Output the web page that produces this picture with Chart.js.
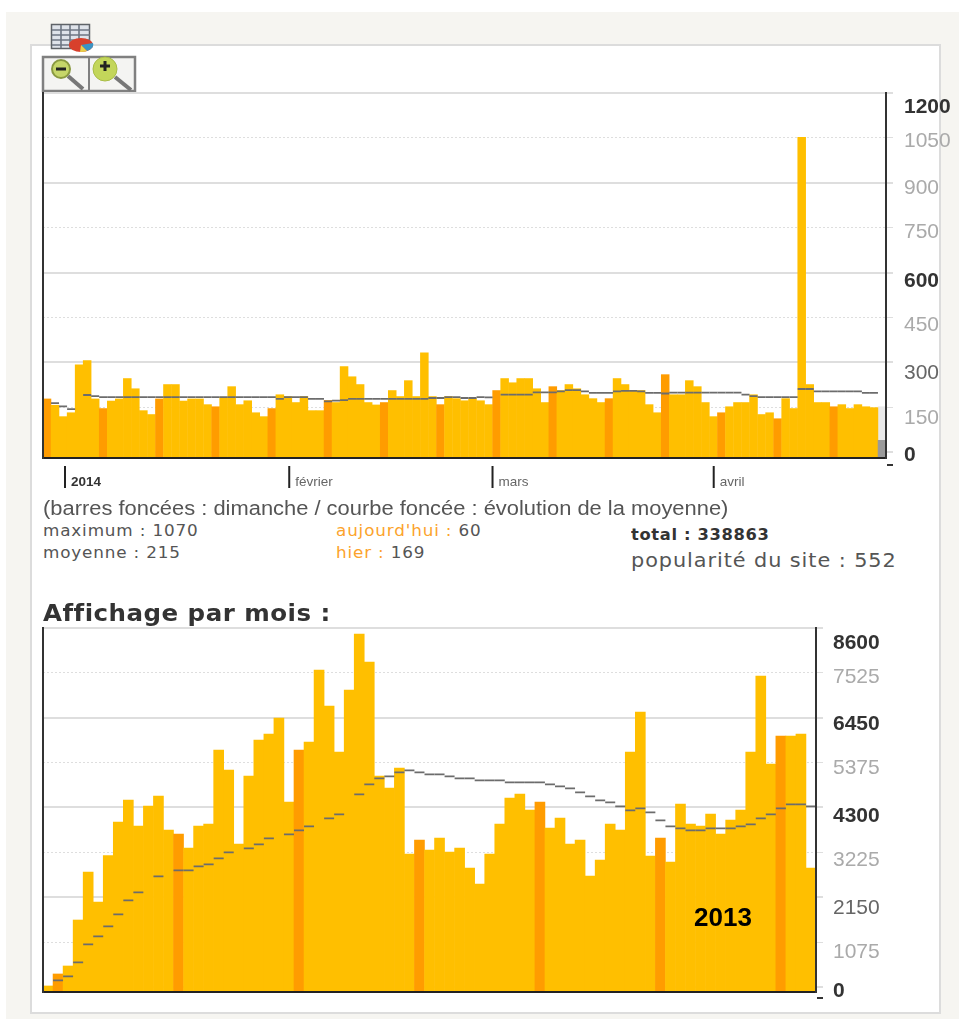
<!DOCTYPE html>
<html lang="fr"><head><meta charset="utf-8">
<script src="https://cdn.jsdelivr.net/npm/chart.js@4"></script>
<style>
html,body{margin:0;padding:0;background:#fff;width:959px;height:1019px;overflow:hidden}
body{filter:blur(.45px)}
.abs{position:absolute;white-space:nowrap;line-height:1;transform-origin:left center}
#outer{position:absolute;left:6px;top:12px;width:953px;height:1007px;background:#f6f5f1}
#inner{position:absolute;left:30px;top:44px;width:907px;height:966px;background:#fff;border:2px solid #dcdcdc}
canvas{position:absolute}
.dj{font-family:"DejaVu Sans",sans-serif;color:#555}
.or{color:#fca32c}
.dash{position:absolute;width:6px;height:2px;background:#333}
</style></head><body>
<div id="outer"></div><div id="inner"></div>
<svg class="abs" style="left:40px;top:20px" width="100" height="74" viewBox="0 0 100 74">
 <rect x="11.5" y="4.5" width="38" height="24" fill="#dfe3ea" stroke="#5f6368" stroke-width="1.5"/>
 <path d="M12 10H50M12 15H50M12 20H50M12 25H40M21 5V28M30 5V28M39 5V20" stroke="#6f7784" stroke-width="1.6"/>
 <ellipse cx="41" cy="25" rx="12" ry="7" fill="#d8402c"/>
 <path d="M41 25L53 23A12 7 0 0 1 47 31Z" fill="#3a94c4"/>
 <path d="M41 25L47 31A12 7 0 0 1 40 32Z" fill="#e8d04a"/>
 <rect x="3" y="37" width="92" height="34" fill="#f4f4f2" stroke="#808080" stroke-width="2.5"/>
 <line x1="49" y1="37" x2="49" y2="71" stroke="#808080" stroke-width="2"/>
 <circle cx="21" cy="49" r="9" fill="#c6d66a" stroke="#8a9a40" stroke-width="2"/>
 <rect x="16" y="47.5" width="10" height="3" fill="#222"/>
 <line x1="28" y1="56" x2="43" y2="69" stroke="#777" stroke-width="4"/>
 <circle cx="65" cy="49" r="12" fill="#c3d65a" stroke="#a9bd48"/>
 <path d="M60 46H70M65 41V51" stroke="#222" stroke-width="3"/>
 <line x1="75" y1="57" x2="91" y2="70" stroke="#777" stroke-width="4"/>
</svg>

<canvas id="c1" style="left:30px;top:80px"></canvas>
<canvas id="c2" style="left:30px;top:615px"></canvas>
<div class="dash" style="left:887px;top:464px"></div>
<div class="dash" style="left:817px;top:997px"></div>

<div class="abs" style="left:43px;top:497px;font:20px 'Liberation Sans',Arial,sans-serif;color:#555;transform:scaleX(1.095)">(barres foncées : dimanche / courbe foncée : évolution de la moyenne)</div>
<div class="abs dj" style="left:43px;top:524px;font-size:15px;letter-spacing:.75px;transform:scaleX(1.12)">maximum : 1070</div>
<div class="abs dj" style="left:43px;top:546px;font-size:15px;letter-spacing:.75px;transform:scaleX(1.12)">moyenne : 215</div>
<div class="abs dj" style="left:336px;top:524px;font-size:15px;letter-spacing:.75px;transform:scaleX(1.12)"><span class="or">aujourd'hui :</span> 60</div>
<div class="abs dj" style="left:336px;top:546px;font-size:15px;letter-spacing:.75px;transform:scaleX(1.12)"><span class="or">hier :</span> 169</div>
<div class="abs dj" style="left:631px;top:528px;font-size:15px;font-weight:bold;letter-spacing:.6px;color:#333;transform:scaleX(1.087)">total : 338863</div>
<div class="abs dj" style="left:631px;top:550px;font-size:20px;letter-spacing:.9px;transform:scaleX(1.04)">popularité du site : 552</div>
<div class="abs dj" style="left:43px;top:602px;font-size:23px;font-weight:bold;color:#333;letter-spacing:.45px;transform:scaleX(1.065)">Affichage par mois :</div>
<div class="abs" style="left:694px;top:902px;font:bold 26px 'Liberation Sans',Arial,sans-serif;color:#000">2013</div>

<script>
// ---- daily chart ----
const dayLabels = ["1","2","3","4","5","6","7","8","9","10","11","12","13","14","15","16","17","18","19","20","21","22","23","24","25","26","27","28","29","30","31","32","33","34","35","36","37","38","39","40","41","42","43","44","45","46","47","48","49","50","51","52","53","54","55","56","57","58","59","60","61","62","63","64","65","66","67","68","69","70","71","72","73","74","75","76","77","78","79","80","81","82","83","84","85","86","87","88","89","90","91","92","93","94","95","96","97","98","99","100","101","102","103","104","105"];
const dayValues = [198,177,139,152,312,326,198,166,191,198,266,232,159,146,198,246,246,191,198,198,179,172,204,239,179,192,152,139,166,212,206,186,206,159,159,193,186,306,272,246,186,178,186,226,206,259,206,352,206,179,206,199,192,199,192,179,226,266,252,266,266,232,186,239,226,246,232,212,199,186,199,266,246,226,226,179,152,279,212,212,259,239,186,139,152,172,186,186,212,146,152,132,199,166,1070,246,186,186,172,179,166,179,172,169,null];
const dayAverage = [null,183,172,163,null,210,206,203,203,203,203,203,203,203,203,203,203,203,203,203,203,203,203,203,203,203,203,203,203,197,203,203,203,197,197,189,191,193,197,197,197,197,197,197,197,197,197,197,200,200,203,203,200,200,203,202,null,211,211,211,211,219,219,219,222,226,226,222,217,217,217,222,224,224,222,217,217,215,218,218,218,218,218,218,218,218,218,211,206,203,203,203,203,203,230,230,222,222,222,222,222,222,217,217,null];
const daySundays = [0,7,14,21,28,35,42,49,56,63,70,77,84,91,98];
const dayProjection = [null,null,null,null,null,null,null,null,null,null,null,null,null,null,null,null,null,null,null,null,null,null,null,null,null,null,null,null,null,null,null,null,null,null,null,null,null,null,null,null,null,null,null,null,null,null,null,null,null,null,null,null,null,null,null,null,null,null,null,null,null,null,null,null,null,null,null,null,null,null,null,null,null,null,null,null,null,null,null,null,null,null,null,null,null,null,null,null,null,null,null,null,null,null,null,null,null,null,null,null,null,null,null,null,172];
const dayToday = [null,null,null,null,null,null,null,null,null,null,null,null,null,null,null,null,null,null,null,null,null,null,null,null,null,null,null,null,null,null,null,null,null,null,null,null,null,null,null,null,null,null,null,null,null,null,null,null,null,null,null,null,null,null,null,null,null,null,null,null,null,null,null,null,null,null,null,null,null,null,null,null,null,null,null,null,null,null,null,null,null,null,null,null,null,null,null,null,null,null,null,null,null,null,null,null,null,null,null,null,null,null,null,null,60];
const dayTicks = [0,150,300,450,600,750,900,1050,1200];
const monthNames = ["2014","février","mars","avril"];
const monthPlaces = [2.24,30.17,55.49,83.04];

// ---- monthly chart ----
const weekLabels = ["1","2","3","4","5","6","7","8","9","10","11","12","13","14","15","16","17","18","19","20","21","22","23","24","25","26","27","28","29","30","31","32","33","34","35","36","37","38","39","40","41","42","43","44","45","46","47","48","49","50","51","52","53","54","55","56","57","58","59","60","61","62","63","64","65","66","67","68","69","70","71","72","73","74","75","76","77"];
const weekValues = [152,439,630,1730,2879,2161,3270,4075,4601,3979,4458,4697,3884,3788,3453,3979,4027,5797,5319,3549,5175,6037,6180,6563,4553,5797,5989,7711,6850,5750,7233,8572,7903,5175,4888,5367,3309,3644,3405,3692,3357,3453,2974,2592,3309,4027,4649,4745,4362,4553,3931,4171,3549,3644,2783,3166,4027,3884,5750,6707,3262,3692,3118,4506,4027,3979,4266,3788,4123,4362,5750,7568,5463,6132,6132,6180,2974];
const weekAverage = [null,279,375,710,1140,1332,1571,1858,2193,2384,null,2767,null,2911,2911,3006,3054,3198,3341,null,3437,3533,3676,null,3772,3868,3963,null,4155,4250,null,4729,4968,5112,5160,5255,5303,5255,5207,5207,5160,5112,5112,5064,5064,5064,5016,5016,5016,5016,4968,4920,4872,4777,4681,4585,4537,4442,4346,4394,4298,4107,3963,3916,3868,3868,3916,3916,3916,3963,4011,4155,4250,4394,4490,4490,4442];
const weekDark = [1,13,25,37,49,61,73];
const weekTicks = [0,1075,2150,3225,4300,5375,6450,7525,8600];

const BAR='#ffbf00', DARK='#ff9c00', GRID='#dedede', EDGE='#222';

function tickLabels(offsets, colors, bolds, xOffset){
  return {id:'tickLabels', afterDraw(chart){
    const s=chart.scales.y, c=chart.ctx; c.save();
    c.textBaseline='middle'; c.textAlign='left';
    s.ticks.forEach((t,i)=>{
      c.font=(bolds[i]?'bold ':'')+'21px "Liberation Sans",Arial,sans-serif';
      c.fillStyle=colors[i];
      c.fillText(String(t.value), s.right+xOffset, s.getPixelForValue(t.value)+offsets[i]);
    });
    c.restore();
  }};
}
const monthTicks={id:'monthTicks', afterDraw(chart){
  if(chart.canvas.id!=='c1') return;
  const s=chart.scales.x, c=chart.ctx, b=chart.chartArea.bottom; c.save();
  monthNames.forEach((m,i)=>{
    const x=s.getPixelForValue(monthPlaces[i]);
    c.fillStyle='#222'; c.fillRect(x-1,b+8,2,22);
    c.font=(i===0?'bold ':'')+'13.5px "Liberation Sans",Arial,sans-serif';
    c.fillStyle=i===0?'#333':'#666'; c.textBaseline='middle'; c.textAlign='left';
    c.fillText(m,x+6,b+24);
  });
  c.restore();
}};

function makeChart(id,h,cfg){
  const el=document.getElementById(id);
  el.width=929; el.height=h; el.style.width='929px'; el.style.height=h+'px';
  const colors=cfg.values.map((v,i)=>cfg.dark.includes(i)?DARK:BAR);
  const barBase={type:'bar',yAxisID:'yBars',barPercentage:1.06,categoryPercentage:1,grouped:false};
  const datasets=[];
  if(cfg.projection) datasets.push({...barBase,data:cfg.projection,backgroundColor:'#e9e9e9',order:4});
  datasets.push({...barBase,data:cfg.values,backgroundColor:colors,order:3});
  if(cfg.today) datasets.push({...barBase,data:cfg.today,backgroundColor:'#9a9a9a',order:2});
  datasets.push({type:'line',yAxisID:'yBars',data:cfg.average,showLine:false,pointStyle:'line',pointRadius:cfg.dash,pointHoverRadius:cfg.dash,pointBorderColor:'#6c6c6c',pointBorderWidth:1.8,order:1});
  return new Chart(el,{
    data:{labels:cfg.labels,datasets},
    plugins:[tickLabels(cfg.offsets,cfg.colors,cfg.bolds,cfg.labelGap),monthTicks],
    options:{
      responsive:false,animation:false,events:[],
      layout:{padding:cfg.padding},
      plugins:{legend:{display:false},tooltip:{enabled:false}},
      scales:{
        x:{type:'category',offset:true,ticks:{display:false},grid:{display:false,drawTicks:false},border:{display:true,color:EDGE,width:2,z:1}},
        y:{position:'right',min:cfg.gridMin,max:cfg.gridMax,
           afterBuildTicks(s){s.ticks=cfg.ticks.map(v=>({value:v}));},
           ticks:{display:false},
           grid:{color:GRID,tickLength:7,tickColor:GRID,lineWidth:c=>c.index%2===0?2:1,tickWidth:c=>c.index%2===0?2:1},
           border:{display:true,color:'#333',width:2,z:1,dash:c=>c.index%2===0?[]:[2,2]}},
        yBars:{position:'left',min:0,max:cfg.barMax,ticks:{display:false},
           grid:{display:false,drawTicks:false},border:{display:true,color:'#333',width:2,z:1}}
      }
    }
  });
}

makeChart('c1',420,{
  labels:dayLabels,values:dayValues,average:dayAverage,dark:daySundays,projection:dayProjection,today:dayToday,
  ticks:dayTicks,gridMin:-20,gridMax:1200,barMax:1217,dash:4,labelGap:11,
  padding:{left:13,top:13,right:66,bottom:42},
  offsets:[3,11,11,8,9,5,5,3,14],
  colors:['#333','#aaa','#666','#aaa','#333','#aaa','#aaa','#aaa','#333'],
  bolds:[1,0,0,0,1,0,0,0,1]
});
makeChart('c2',400,{
  labels:weekLabels,values:weekValues,average:weekAverage,dark:weekDark,
  ticks:weekTicks,gridMin:-120,gridMax:8600,barMax:8708,dash:5,labelGap:10,
  padding:{left:13,top:13,right:136,bottom:23},
  offsets:[4,10,11,8,9,6,6,4,15],
  colors:['#333','#aaa','#666','#aaa','#333','#aaa','#333','#aaa','#333'],
  bolds:[1,0,0,0,1,0,1,0,1]
});
</script>
</body></html>
